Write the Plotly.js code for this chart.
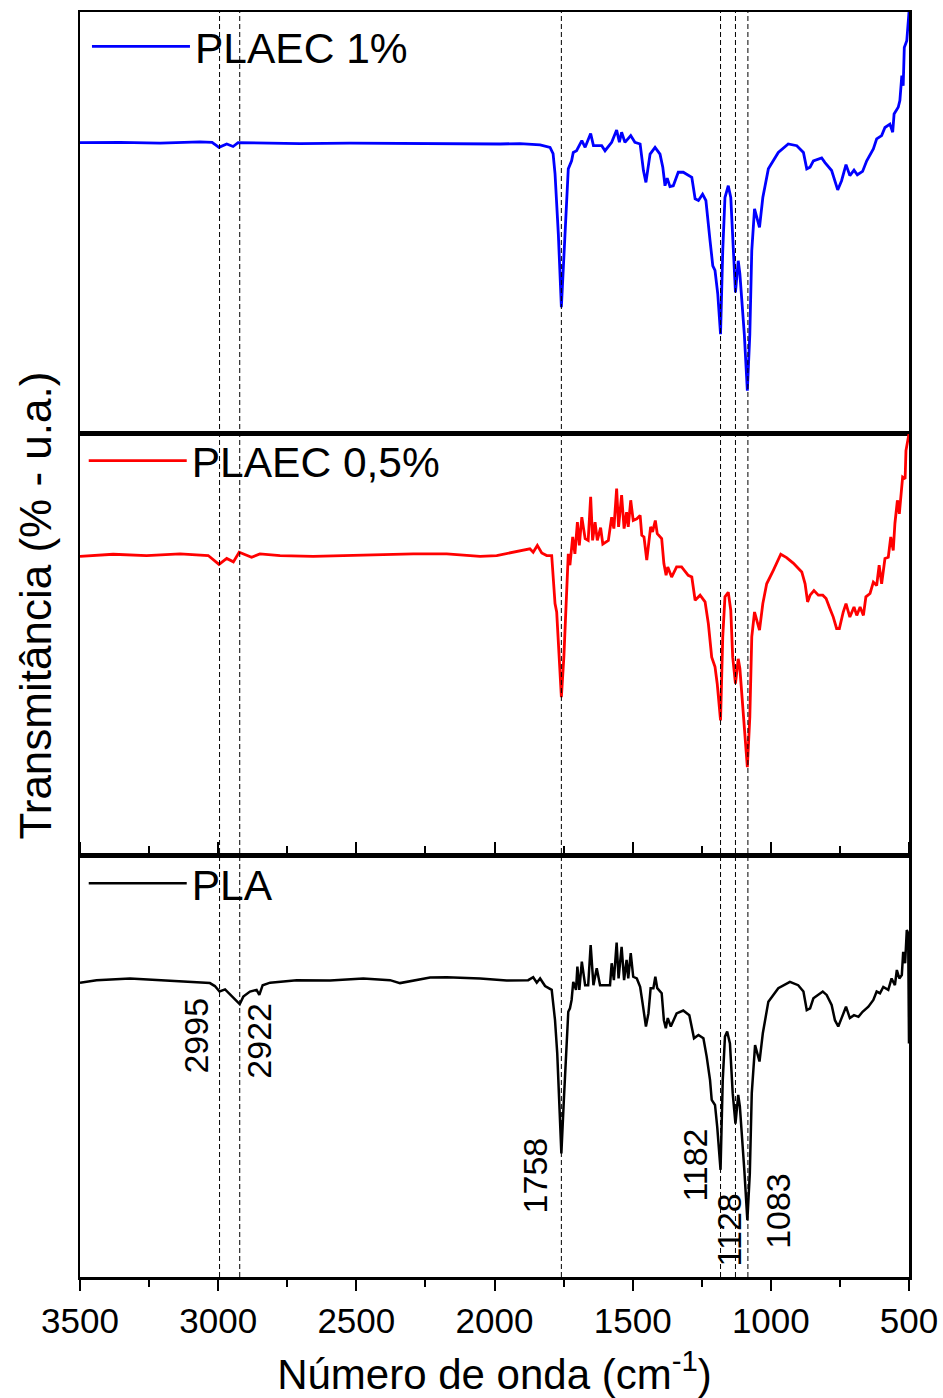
<!DOCTYPE html>
<html>
<head>
<meta charset="utf-8">
<script src="https://cdn.plot.ly/plotly-3.0.1.min.js"></script>
<style>
html,body{margin:0;padding:0;background:#fff;}
#chart{width:943px;height:1398px;}
</style>
</head>
<body>
<div id="chart"></div>
<script>
// ---------- DATA ----------
const seriesNames = ['PLAEC 1%', 'PLAEC 0,5%', 'PLA'];

const wnPLAEC1 = [3500,3355,3210,3066,3022,2997,2969,2946,2928,2849,2704,2523,2342,2161,1980,1908,1835,1799,1788,1781,1769,1758,1745,1733,1721,1715,1703,1684,1672,1652,1642,1612,1600,1576,1558,1548,1540,1528,1507,1492,1473,1461,1452,1437,1419,1401,1391,1383,1375,1365,1353,1335,1317,1286,1274,1262,1247,1235,1220,1210,1202,1192,1182,1174,1166,1154,1145,1138,1128,1118,1112,1096,1085,1076,1069,1059,1041,1029,1009,973,937,906,882,870,858,846,816,804,780,758,744,728,714,699,687,668,653,629,617,599,587,569,559,554,539,533,526,521,517,508,503,500];
const tPLAEC1 = [69.0,69.1,68.9,69.2,69.1,67.9,68.7,68.1,69.0,68.9,68.8,68.9,68.8,68.8,68.7,68.8,68.5,67.9,66.4,61.7,47.4,30.0,45.8,62.8,64.7,66.7,67.1,69.5,67.9,71.2,68.3,68.3,67.1,69.1,72.0,69.1,71.5,69.1,70.7,69.1,68.7,62.4,59.6,66.3,67.9,66.3,63.2,58.8,60.6,58.6,58.8,62.0,62.0,60.8,55.7,55.3,56.8,55.3,45.8,39.8,38.7,33.1,23.6,43.4,56.0,58.8,56.0,45.8,33.5,41.0,37.9,23.6,10.2,23.6,43.4,53.3,48.9,56.0,62.8,66.7,68.7,68.3,66.7,62.8,63.2,64.7,65.4,64.3,62.4,57.8,60.0,63.8,61.2,62.5,61.4,62.2,64.7,67.5,69.9,70.7,72.6,73.4,71.5,75.8,77.4,79.0,84.9,82.5,91.6,93.2,99.5,100];

const wnPLAEC05 = [3500,3380,3259,3138,3036,2997,2969,2945,2924,2903,2879,2849,2776,2656,2535,2414,2294,2173,2052,1992,1932,1896,1872,1860,1845,1829,1811,1793,1781,1775,1766,1758,1749,1741,1733,1727,1717,1709,1700,1693,1684,1672,1661,1652,1645,1636,1628,1616,1608,1588,1576,1568,1558,1551,1540,1531,1522,1516,1507,1498,1485,1473,1467,1459,1449,1435,1428,1418,1411,1395,1387,1379,1373,1359,1341,1323,1299,1286,1274,1256,1238,1226,1214,1202,1194,1182,1174,1166,1154,1145,1138,1128,1118,1112,1096,1085,1076,1069,1059,1041,1029,1015,991,964,943,919,888,876,867,858,844,828,812,800,786,774,762,752,738,728,714,699,689,677,665,656,641,629,617,608,599,587,575,566,557,551,542,535,523,514,511,503,500];
const tPLAEC05 = [70.9,71.4,71.1,71.5,71.1,69.0,70.4,69.6,71.9,71.4,70.7,71.5,71.1,70.9,71.1,71.3,71.5,71.5,70.9,71.1,71.9,72.2,72.7,71.9,73.5,71.7,71.1,71.1,59.7,57.7,45.5,37.5,47.0,59.7,71.5,68.8,75.5,71.5,79.0,73.5,80.2,75.1,74.7,85.0,74.7,79.0,74.7,77.7,73.8,74.7,80.2,77.5,87.0,77.9,85.4,77.5,81.4,77.9,84.2,79.4,79.8,80.6,75.9,75.5,70.0,77.9,76.7,79.4,76.3,75.1,69.2,66.4,68.4,66.0,68.4,68.4,66.4,66.0,60.5,61.7,60.1,54.9,47.0,44.7,40.7,32.0,51.8,61.3,62.4,58.1,47.0,40.7,46.6,44.3,30.4,20.9,32.8,51.8,57.7,53.4,59.7,64.4,67.6,71.4,70.6,69.3,67.2,64.4,60.1,61.7,62.8,61.7,61.7,60.9,58.5,56.5,53.8,53.8,57.7,59.7,56.5,58.9,56.9,58.9,56.9,61.3,62.1,64.8,64.0,68.8,64.4,70.4,70.7,75.5,72.3,78.7,84.2,81.0,89.7,89.3,96.0,99.6,100];

const wnPLA = [3500,3440,3319,3199,3078,3030,3012,2995,2975,2951,2922,2909,2885,2861,2851,2839,2812,2716,2595,2475,2378,2342,2318,2233,2173,2052,1956,1908,1878,1860,1847,1835,1817,1793,1781,1773,1766,1758,1749,1741,1733,1727,1721,1715,1705,1700,1693,1684,1672,1661,1652,1642,1630,1618,1582,1576,1568,1558,1551,1540,1531,1522,1516,1507,1498,1485,1473,1464,1452,1443,1435,1425,1418,1411,1395,1387,1380,1373,1362,1341,1317,1295,1278,1262,1244,1232,1220,1214,1202,1194,1182,1174,1166,1158,1148,1138,1128,1118,1112,1096,1085,1076,1069,1057,1041,1029,1009,973,931,901,882,870,858,846,812,798,780,768,756,744,728,714,699,683,668,647,629,617,605,593,575,563,551,544,535,526,521,514,508,503,500];
const tPLA = [69.8,70.4,70.8,70.3,69.8,69.7,69.0,67.7,68.2,66.5,64.7,66.5,67.7,68.1,66.9,69.2,69.8,70.4,70.3,70.8,70.4,69.7,70.0,71.0,71.1,70.8,70.3,70.4,70.4,71.1,69.8,70.8,69.0,68.1,60.9,53.1,40.4,29.3,42.0,53.8,62.9,63.7,65.7,70.0,68.1,73.6,68.1,74.8,69.2,69.2,78.7,69.2,73.2,69.2,69.2,74.4,70.4,79.3,70.8,78.3,70.4,75.2,70.8,76.8,71.2,70.8,68.8,64.9,59.4,62.5,68.5,68.5,71.2,68.5,67.3,60.9,59.0,61.4,59.4,62.5,63.2,62.1,56.6,57.4,56.6,52.2,46.7,42.0,40.8,35.6,25.4,46.7,57.0,58.2,55.4,43.6,36.4,43.2,40.4,25.4,13.5,24.6,43.6,55.0,51.1,57.8,65.3,68.5,70.0,69.2,67.7,63.3,63.7,66.1,67.7,66.9,64.5,60.9,59.4,61.4,64.1,61.4,62.1,61.7,62.9,64.1,65.7,67.7,67.3,68.8,68.1,70.8,69.2,72.8,70.8,71.6,77.1,74.4,82.3,81.5,55.4];

const peakPositions = [2995, 2922, 1758, 1182, 1128, 1083];
const peakLabels = ['2995', '2922', '1758', '1182', '1128', '1083'];

// ---------- STYLE / LAYOUT ----------
const FONT = 'Liberation Sans, Arial, Helvetica, sans-serif';
const colors = ['#0000FF', '#FF0000', '#000000'];
const widths = [2.8, 2.8, 2.5];
// label placement (pixel shift from peak line, paper-y of label center)
const labelPlacement = [
  {xshift: -24, y: 0.1905},
  {xshift: 19, y: 0.1866},
  {xshift: -26, y: 0.0806},
  {xshift: -25, y: 0.0885},
  {xshift: -7, y: 0.0372},
  {xshift: 30, y: 0.0522}
];

const xs = [wnPLAEC1, wnPLAEC05, wnPLA];
const ys = [tPLAEC1, tPLAEC05, tPLA];
const yaxesIds = ['y', 'y2', 'y3'];
const legendIds = ['legend', 'legend2', 'legend3'];

const traces = seriesNames.map((n, i) => ({
  type: 'scatter', mode: 'lines', name: n,
  x: xs[i], y: ys[i], xaxis: 'x', yaxis: yaxesIds[i],
  legend: legendIds[i],
  line: {color: colors[i], width: widths[i]},
  hoverinfo: 'skip'
}));

const yax = (dom) => ({
  domain: dom, range: [0, 100], anchor: 'x',
  showline: true, mirror: true, linewidth: 2.5, linecolor: '#000',
  ticks: '', showticklabels: false, showgrid: false, zeroline: false, fixedrange: true
});

const shapes = peakPositions.map(p => ({
  type: 'line', xref: 'x', yref: 'paper', x0: p, x1: p, y0: 0, y1: 1,
  line: {color: '#000', width: 1, dash: '5px,3px'}, layer: 'above'
}));

const annotations = peakLabels.map((t, i) => ({
  text: t, xref: 'x', yref: 'paper', x: peakPositions[i], y: labelPlacement[i].y,
  xshift: labelPlacement[i].xshift, showarrow: false, textangle: -90,
  xanchor: 'center', yanchor: 'middle', font: {family: FONT, size: 34, color: '#000'}
}));
annotations.push({
  text: 'Transmitância (% - u.a.)', xref: 'paper', yref: 'paper',
  x: -0.054, y: 0.531, showarrow: false, textangle: -90,
  xanchor: 'center', yanchor: 'middle', font: {family: FONT, size: 44, color: '#000'}
});

const legendBase = (x, y) => ({
  x: x, y: y, xref: 'paper', yref: 'paper', xanchor: 'left', yanchor: 'middle',
  bgcolor: 'rgba(0,0,0,0)', borderwidth: 0, itemwidth: 98,
  font: {family: FONT, size: 42.5, color: '#000'}
});

const layout = {
  width: 943, height: 1398,
  margin: {l: 80, r: 34, t: 12, b: 121},
  paper_bgcolor: '#fff', plot_bgcolor: '#fff',
  font: {family: FONT, color: '#000'},
  showlegend: true,
  xaxis: {
    range: [3500, 500], anchor: 'y3',
    tickmode: 'linear', tick0: 500, dtick: 500,
    ticks: 'outside', ticklen: 11, tickwidth: 2, tickcolor: '#000',
    ticklabelstandoff: 0,
    minor: {dtick: 250, tick0: 500, ticks: 'outside', ticklen: 7, tickwidth: 2, tickcolor: '#000', showgrid: false},
    showline: true, mirror: 'all', linewidth: 2.5, linecolor: '#000',
    showgrid: false, zeroline: false, fixedrange: true,
    tickfont: {family: FONT, size: 35, color: '#000'},
    title: {text: 'Número de onda (cm<sup>-1</sup>)', font: {family: FONT, size: 42, color: '#000'}, standoff: 24}
  },
  yaxis: yax([2/3, 1]),
  yaxis2: yax([1/3, 2/3]),
  yaxis3: yax([0, 1/3]),
  legend: legendBase(0.0084, 0.9725),
  legend2: legendBase(0.0045, 0.645),
  legend3: legendBase(0.0045, 0.311),
  shapes: shapes,
  annotations: annotations
};

Plotly.newPlot('chart', traces, layout, {staticPlot: true, displayModeBar: false});
</script>
</body>
</html>
